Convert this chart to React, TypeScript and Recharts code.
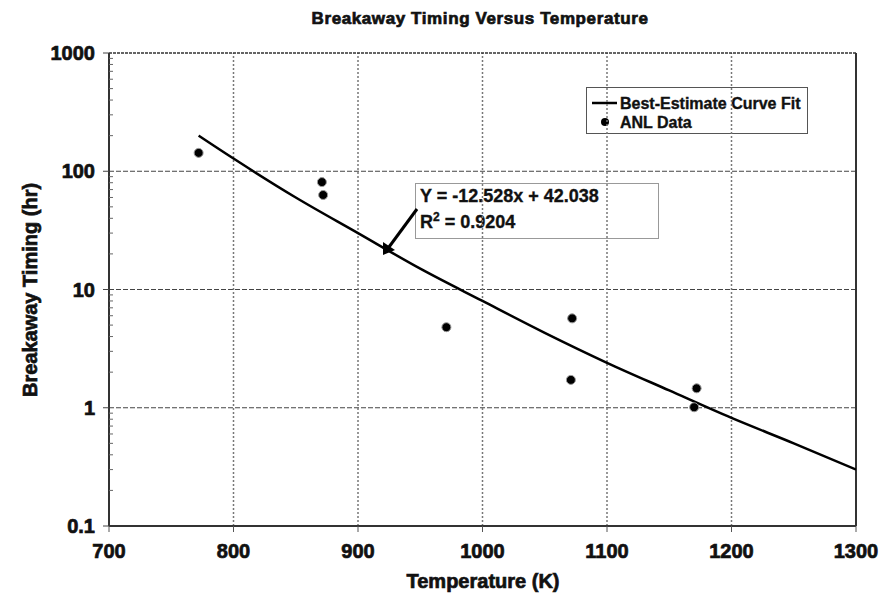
import React from 'react';
import { ComposedChart, Line, Scatter, XAxis, YAxis, ReferenceLine } from 'recharts';

// ---- data ----
const xTicks = [700, 800, 900, 1000, 1100, 1200, 1300];
const yMajorTicks = [0.1, 1, 10, 100, 1000];
const yMinorTicks = [
  0.2, 0.3, 0.4, 0.5, 0.6, 0.7, 0.8, 0.9,
  2, 3, 4, 5, 6, 7, 8, 9,
  20, 30, 40, 50, 60, 70, 80, 90,
  200, 300, 400, 500, 600, 700, 800, 900,
];
const xGrid = [800, 900, 1000, 1100, 1200];
const yGrid = [1, 10, 100];

const fitTemps = [772, 800, 850, 900, 950, 1000, 1050, 1100, 1150, 1200, 1250, 1300];
const fitHours = [200, 128, 60, 30, 15, 8.0, 4.3, 2.4, 1.4, 0.82, 0.5, 0.3];

const anlTemps = [772, 871, 872, 971, 1072, 1071, 1172, 1170];
const anlHours = [143, 81, 63, 4.8, 5.7, 1.72, 1.46, 1.01];

const titleText = 'Breakaway Timing Versus Temperature';
const xTitle = 'Temperature (K)';
const yTitle = 'Breakaway Timing (hr)';
const fitName = 'Best-Estimate Curve Fit';
const anlName = 'ANL Data';
const eqLine1 = 'Y = -12.528x + 42.038';
const eqR2 = '0.9204';

const fitData = fitTemps.map((t, i) => ({ t, h: fitHours[i] }));
const anlData = anlTemps.map((t, i) => ({ t, h: anlHours[i] }));
const yTicksAll = [...yMajorTicks, ...yMinorTicks].sort((a, b) => a - b);

const FONT = '"Liberation Sans", Arial, sans-serif';
const INK = '#111';
const HEAVY = { stroke: '#111', strokeWidth: 0.7, paintOrder: 'stroke' as any };
const MED = { stroke: '#111', strokeWidth: 0.35, paintOrder: 'stroke' as any };

const W = 880;
const H = 588;
const X_AXIS_H = 30;
const M = { top: 45, right: 32, bottom: 70 - X_AXIS_H, left: 0 };
const Y_AXIS_W = 101;

const YTick = (props: any) => {
  const { x, y, payload } = props;
  const ax = x + 14;
  const v = payload.value;
  const major = yMajorTicks.indexOf(v) >= 0;
  return (
    <g>
      {major ? (
        <line x1={ax - 6} x2={ax} y1={y} y2={y} stroke="#444" strokeWidth={1} />
      ) : (
        <line x1={ax} x2={ax + 4} y1={y} y2={y} stroke="#666" strokeWidth={1} />
      )}
      {major && (
        <text x={x} y={y} dy="0.36em" textAnchor="end" fontFamily={FONT} fontWeight="bold" fontSize={20} fill={INK} style={HEAVY}>
          {String(v)}
        </text>
      )}
    </g>
  );
};

const XTick = (props: any) => {
  const { x, y, payload } = props;
  return (
    <text x={x} y={y} dy="0.72em" textAnchor="middle" fontFamily={FONT} fontWeight="bold" fontSize={20} fill={INK} style={HEAVY}>
      {String(payload.value)}
    </text>
  );
};

const Dot = (props: any) => {
  const { cx, cy } = props;
  if (cx == null || cy == null) return null;
  return <circle cx={cx} cy={cy} r={4.5} fill="#000" stroke="#999" strokeWidth={1} />;
};

export default function App() {
  return (
    <div style={{ width: W, height: H, background: '#fff' }}>
      <ComposedChart width={W} height={H} margin={M}>
        <XAxis
          dataKey="t"
          type="number"
          domain={[700, 1300]}
          ticks={xTicks}
          allowDataOverflow
          height={X_AXIS_H}
          axisLine={{ stroke: '#333', strokeWidth: 2 }}
          tickLine={{ stroke: '#555' }}
          tickSize={6}
          tickMargin={12}
          tick={<XTick />}
          interval={0}
        />
        <YAxis
          dataKey="h"
          type="number"
          scale="log"
          domain={[0.1, 1000]}
          ticks={yTicksAll}
          allowDataOverflow
          width={Y_AXIS_W}
          axisLine={{ stroke: '#333', strokeWidth: 2 }}
          tickLine={false}
          tickSize={6}
          tickMargin={8}
          tick={<YTick />}
          interval={0}
        />
        {yGrid.map((v) => (
          <ReferenceLine key={'hy' + v} y={v} stroke="#444" strokeDasharray="5 2" strokeWidth={1} />
        ))}
        {xGrid.map((v) => (
          <ReferenceLine key={'vx' + v} x={v} stroke="#777" strokeDasharray="2 2" strokeWidth={1.5} />
        ))}
        <ReferenceLine y={1000} stroke="#333" strokeWidth={1.5} strokeDasharray="3 1" />
        <ReferenceLine x={1300} stroke="#333" strokeWidth={2} />
        <Line
          data={fitData}
          dataKey="h"
          name={fitName}
          type="monotone"
          stroke="#000"
          strokeWidth={2.5}
          dot={false}
          activeDot={false}
          isAnimationActive={false}
        />
        <Scatter data={anlData} dataKey="h" name={anlName} shape={<Dot />} isAnimationActive={false} />
        <g>
          <text x={472} y={16} textAnchor="middle" fontFamily={FONT} fontWeight="bold" fontSize={17} letterSpacing={0.6} fill={INK} style={HEAVY}>
            {titleText}
          </text>
          <text x={475} y={580} textAnchor="middle" fontFamily={FONT} fontWeight="bold" fontSize={20} fill={INK} style={HEAVY}>
            {xTitle}
          </text>
          <text
            x={29}
            y={282}
            textAnchor="middle"
            transform="rotate(-90, 29, 282)"
            fontFamily={FONT}
            fontWeight="bold"
            fontSize={20}
            fill={INK}
            style={HEAVY}
          >
            {yTitle}
          </text>
          <g transform="translate(578, 79)">
            <rect x={0.5} y={0.5} width={221} height={46} fill="#fff" stroke="#555" strokeWidth={1} />
            <line x1={6} x2={31} y1={16} y2={16} stroke="#000" strokeWidth={2.5} />
            <text x={34} y={22} fontFamily={FONT} fontWeight="bold" fontSize={16} fill={INK} style={MED}>{fitName}</text>
            <circle cx={19} cy={35} r={4} fill="#000" />
            <text x={34} y={41} fontFamily={FONT} fontWeight="bold" fontSize={16} fill={INK} style={MED}>{anlName}</text>
          </g>
          <rect x={407.5} y={175.5} width={243} height={55} fill="#fff" stroke="#999" strokeWidth={1} />
          <text x={412} y={194} fontFamily={FONT} fontWeight="bold" fontSize={18} fill={INK} style={MED}>
            {eqLine1}
          </text>
          <text x={412} y={220} fontFamily={FONT} fontWeight="bold" fontSize={18} fill={INK} style={MED}>
            R<tspan dy={-7} fontSize={12}>2</tspan><tspan dy={7}>{' = ' + eqR2}</tspan>
          </text>
          <line x1={409} y1={201} x2={381} y2={239} stroke="#000" strokeWidth={3} />
          <polygon points="375,247 375,234 387,242" fill="#000" />
        </g>
      </ComposedChart>
    </div>
  );
}
